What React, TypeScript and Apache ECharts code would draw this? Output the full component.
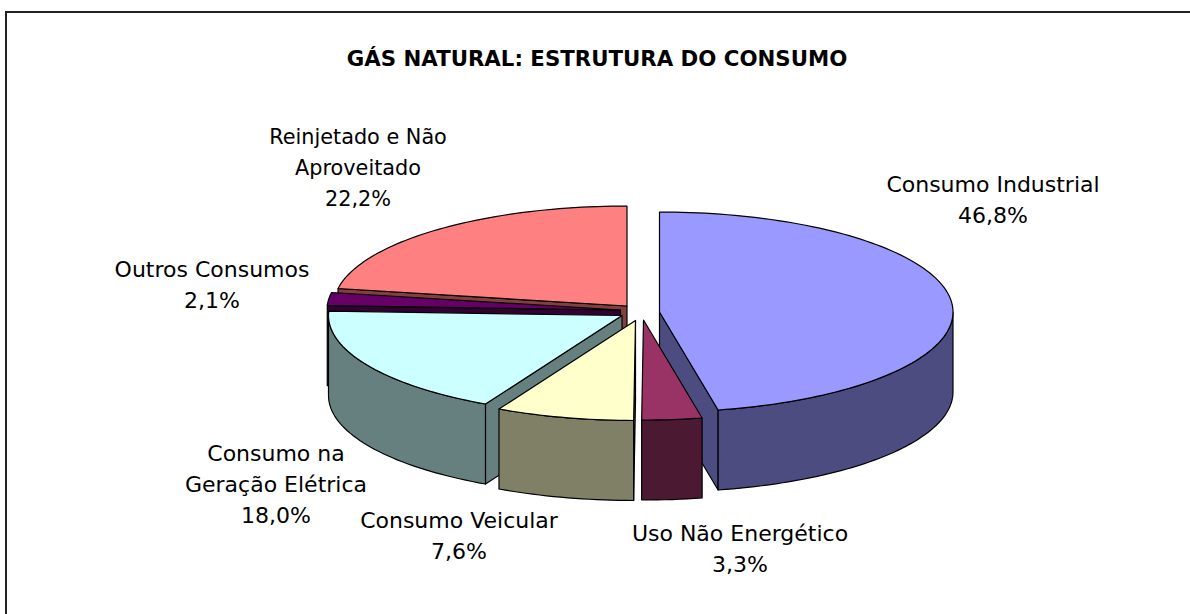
import React, { useEffect, useRef } from "react";
import * as echarts from "echarts";

const titleText = "GÁS NATURAL: ESTRUTURA DO CONSUMO";
const categories = [
  "Consumo Industrial",
  "Uso Não Energético",
  "Consumo Veicular",
  "Consumo na\nGeração Elétrica",
  "Outros Consumos",
  "Reinjetado e Não\nAproveitado",
];
const values = [46.8, 3.3, 7.6, 18.0, 2.1, 22.2];
const topColors = ["#9999FF", "#993366", "#FFFFCC", "#CCFFFF", "#660066", "#FF8080"];
const wallColors = ["#4C4C80", "#4C1933", "#808066", "#668080", "#330033", "#804040"];

// Layout of the exploded 3D pie (pixels)
const RX = 293.5;
const RY = 100;
const DEPTH = 80;
const apexes = [
  [659.5, 312],
  [643.5, 320],
  [635.5, 320.5],
  [622, 315.5],
  [620.5, 310],
  [627, 306],
];
const labelAnchors = [
  [993, 200],
  [740, 549],
  [459, 536],
  [276, 484],
  [212, 285],
  [358, 168],
];
const labelSizes = [22, 22, 22, 22, 22, 20.8];
const drawOrder = [5, 4, 3, 0, 2, 1];
const FONT = "'DejaVu Sans'";
const deg = Math.PI / 180;

function pt(cx: number, cy: number, a: number, dz = 0) {
  return [cx + RX * Math.sin(a * deg), cy - RY * Math.cos(a * deg) + dz];
}
function arc(cx: number, cy: number, a0: number, a1: number, dz = 0) {
  const n = Math.max(2, Math.ceil(Math.abs(a1 - a0) / 1.5));
  const out: number[][] = [];
  for (let i = 0; i <= n; i++) out.push(pt(cx, cy, a0 + ((a1 - a0) * i) / n, dz));
  return out;
}
function poly(points: number[][], fill: string) {
  return {
    type: "polygon",
    shape: { points },
    style: { fill, stroke: "#000", lineWidth: 1.2, lineJoin: "round" },
    silent: true,
  };
}

export default function App() {
  const ref = useRef<HTMLDivElement>(null);
  useEffect(() => {
    const chart = echarts.init(ref.current!, undefined, { renderer: "svg" });
    const total = values.reduce((s, v) => s + v, 0);
    const starts: number[] = [];
    values.reduce((s, v, i) => {
      starts[i] = s;
      return s + (v / total) * 360;
    }, 0);

    const sliceShapes = (i: number) => {
      const a0 = starts[i];
      const a1 = a0 + (values[i] / total) * 360;
      const [cx, cy] = apexes[i];
      const wall = wallColors[i];
      const kids: any[] = [];
      const radial = (a: number) => {
        const p = pt(cx, cy, a);
        return poly([[cx, cy], p, [p[0], p[1] + DEPTH], [cx, cy + DEPTH]], wall);
      };
      if (Math.sin(a0 * deg) < -0.001) kids.push(radial(a0));
      if (Math.sin(a1 * deg) > 0.001) kids.push(radial(a1));
      const f0 = Math.max(a0, 90);
      const f1 = Math.min(a1, 270);
      if (f1 > f0) {
        const upper = arc(cx, cy, f0, f1);
        const lower = arc(cx, cy, f1, f0, DEPTH);
        kids.push(poly([...upper, ...lower], wall));
      }
      kids.push(poly([[cx, cy], ...arc(cx, cy, a0, a1)], topColors[i]));
      return kids;
    };

    chart.setOption({
      animation: false,
      backgroundColor: "#fff",
      title: {
        text: titleText,
        left: 592,
        top: 43,
        textAlign: "center",
        textStyle: { fontFamily: FONT, fontWeight: "bold", fontSize: 21.3, color: "#000" },
      },
      graphic: [
        {
          type: "rect",
          shape: { x: 6, y: 12, width: 1300, height: 700 },
          style: { fill: "none", stroke: "#222", lineWidth: 2 },
          silent: true,
        },
      ],
      series: [
        {
          type: "custom",
          coordinateSystem: "none",
          silent: true,
          clip: false,
          data: drawOrder.map((i) => ({ value: [i, values[i]], name: categories[i] })),
          encode: { value: 1 },
          renderItem: (params: any, api: any) => ({
            type: "group",
            children: sliceShapes(api.value(0)),
          }),
        },
        {
          type: "custom",
          coordinateSystem: "none",
          silent: true,
          data: categories.map((c, i) => ({ value: [i, values[i]], name: c })),
          encode: { value: 1 },
          renderItem: (params: any, api: any) => {
            const i = api.value(0);
            return {
              type: "text",
              x: labelAnchors[i][0],
              y: labelAnchors[i][1],
              style: {
                text: `${categories[i]}\n${values[i].toFixed(1).replace(".", ",")}%`,
                fontFamily: FONT,
                fontSize: labelSizes[i],
                lineHeight: 31,
                fill: "#000",
                align: "center",
                verticalAlign: "middle",
              },
            };
          },
        },
      ],
    });
    return () => chart.dispose();
  }, []);
  return (
    <div
      ref={ref}
      style={{ position: "fixed", left: 0, top: 0, width: 1190, height: 614 }}
    />
  );
}
